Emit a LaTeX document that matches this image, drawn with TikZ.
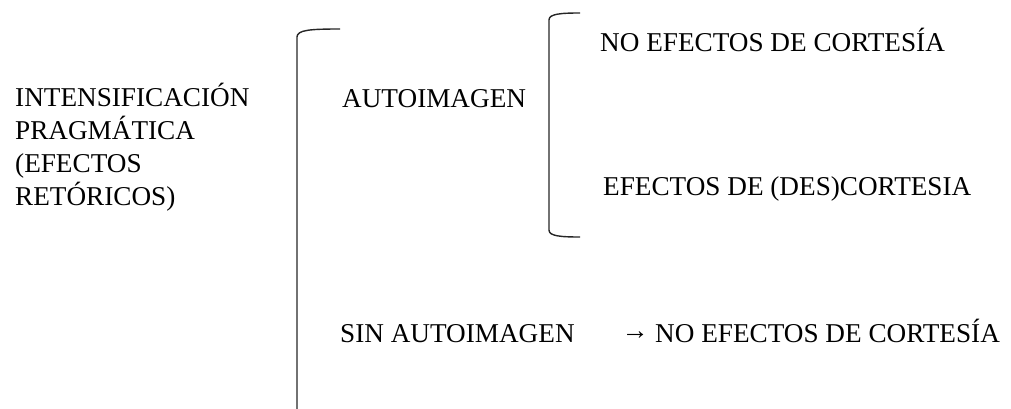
\documentclass[tikz,border=0pt]{standalone}
\usepackage{fontspec}
\newfontfamily\timesfont{Liberation Serif}
\usetikzlibrary{positioning}

\begin{document}
\begin{tikzpicture}[x=1pt, y=-1pt, font=\timesfont\fontsize{27.2}{33}\selectfont,
  label/.style={inner sep=0pt, anchor=base west},
  brace/.style={line width=1.4pt, black!85}
]
\useasboundingbox (0,0) rectangle (1011,409);

\node[label, align=left] (root) at (15,205) {INTENSIFICACIÓN\\PRAGMÁTICA\\(EFECTOS\\RETÓRICOS)};
\node[label] (auto) at (342,108) {AUTOIMAGEN};
\node[label] (noef) at (600,52) {NO EFECTOS DE CORTESÍA};
\node[label] (desc) at (603,195) {EFECTOS DE (DES)CORTESIA};
\node[label] (sin) at (340,342) {SIN AUTOIMAGEN};
\node[label] (noefsin) at (655,342) {NO EFECTOS DE CORTESÍA};
\node[label, anchor=base east] (arrow) at ([xshift=-6pt]noefsin.base west) {\raisebox{2.5pt}{→}};

% brackets
\draw[brace] (340,29) .. controls (310,29) and (297,30) .. (297,37) -- (297,409);
\draw[brace] (580,13) .. controls (560,13) and (549,14) .. (549,20) -- (549,230)
  .. controls (549,236) and (560,237) .. (580,237);

\end{tikzpicture}
\end{document}
